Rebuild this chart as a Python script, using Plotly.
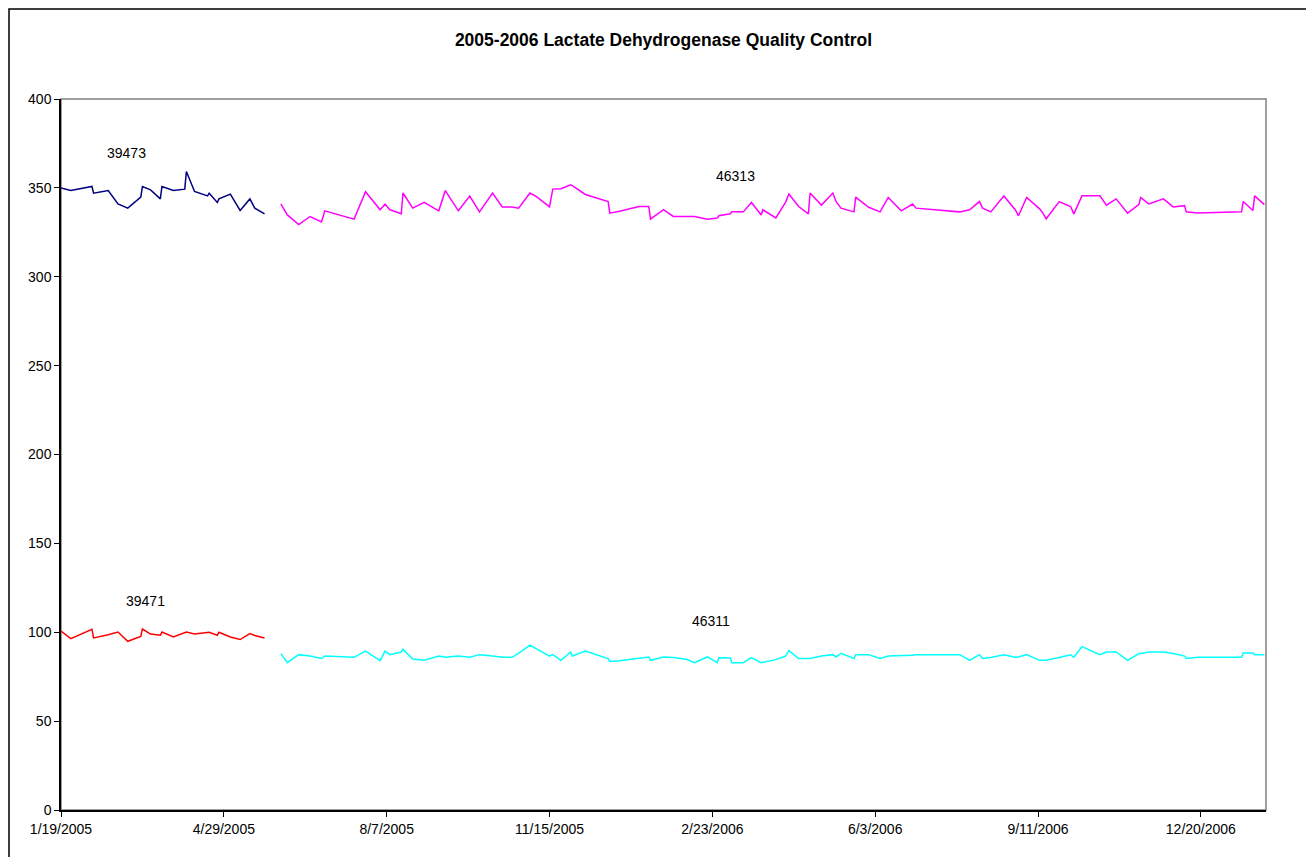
import pandas as pd
import plotly.graph_objects as go

START = "2005-01-19"

# ---- Lots 39473 / 39471 (Jan-May 2005), days since 1/19/2005 ----
days_2005 = [0, 6, 19, 20, 29, 35, 41, 49, 50, 55, 61, 62, 69, 76, 77, 82, 90, 91, 96, 97, 104, 110, 116, 119, 125]
lot_39473 = [349.9, 348.5, 350.8, 347.0, 348.5, 341.0, 338.6, 344.8, 350.8, 348.9, 343.8, 350.8, 348.5,
             349.3, 359.2, 348.0, 345.5, 347.0, 341.8, 343.8, 346.5, 337.3, 343.8, 338.6, 335.4]
lot_39471 = [100.7, 96.4, 101.7, 96.8, 98.6, 100.1, 94.9, 97.7, 101.8, 99.0, 98.3, 100.1, 97.3,
             100.0, 100.1, 99.0, 99.6, 100.0, 98.3, 100.0, 97.3, 95.9, 99.2, 98.2, 96.8]

# ---- Lots 46313 / 46311 (Jun 2005 - Jan 2007) ----
days_2006 = [135, 139, 146, 153, 160, 162, 180, 187, 196, 199, 202, 209, 210, 216, 223, 232, 236, 244,
             251, 257, 265, 271, 277, 281, 288, 292, 300, 302, 307, 313, 314, 322, 336, 337, 343, 355,
             361, 362, 370, 376, 380, 384, 389, 397, 403, 404, 411, 412, 419, 424, 430, 431, 439, 445,
             447, 453, 459, 460, 467, 474, 476, 479, 487, 488, 496, 503, 508, 516, 523, 525, 552, 558,
             564, 566, 571, 579, 586, 588, 593, 601, 603, 605, 613, 620, 622, 627, 638, 642, 648, 655,
             662, 663, 668, 677, 683, 690, 691, 698, 725, 726, 732, 733, 739]
lot_46313 = [341.0, 334.8, 329.4, 333.9, 330.9, 337.1, 332.4, 347.8, 337.7, 340.9, 337.7, 335.4, 347.1,
             338.6, 341.8, 337.1, 348.5, 337.1, 345.4, 336.5, 347.1, 339.3, 339.3, 338.6, 347.1, 345.1,
             339.3, 349.3, 349.5, 351.7, 351.3, 346.3, 342.3, 335.8, 336.9, 339.5, 339.5, 332.4, 337.7,
             333.9, 333.9, 333.9, 333.9, 332.4, 333.0, 334.3, 335.4, 336.5, 336.5, 341.8, 334.7, 337.7,
             333.1, 342.0, 346.5, 339.5, 335.4, 347.1, 340.3, 347.1, 342.2, 338.6, 336.5, 344.8, 339.1,
             336.5, 344.6, 337.1, 340.9, 338.6, 336.5, 337.7, 342.3, 338.6, 336.5, 345.4, 337.7, 334.3,
             344.6, 338.2, 335.8, 332.6, 342.3, 339.5, 335.4, 345.5, 345.5, 340.3, 343.8, 335.8, 340.7,
             344.6, 341.0, 343.8, 339.3, 340.0, 336.5, 335.8, 336.5, 342.3, 337.3, 345.5, 340.6]
lot_46311 = [88.0, 82.9, 87.4, 86.6, 85.2, 86.6, 85.9, 89.4, 84.0, 89.4, 87.4, 88.9, 90.4,
             84.9, 84.2, 86.6, 85.9, 86.6, 85.9, 87.4, 86.6, 85.9, 85.9, 88.1, 92.8, 90.7,
             86.6, 87.4, 84.2, 88.9, 86.6, 89.4, 85.2, 83.6, 84.0, 85.4, 86.1, 84.2, 86.1,
             85.8, 85.5, 84.8, 82.9, 86.1, 82.9, 85.7, 85.5, 82.9, 82.9, 85.7, 82.9, 83.1,
             84.6, 86.6, 89.7, 85.2, 85.2, 85.3, 86.6, 87.4, 86.1, 88.1, 85.2, 87.4, 87.4,
             85.2, 86.6, 86.6, 87.0, 87.4, 87.4, 84.2, 87.4, 85.2, 85.8, 87.4, 85.9, 86.1,
             87.4, 84.2, 84.2, 84.2, 85.8, 87.3, 85.9, 91.9, 87.4, 88.9, 88.9, 84.2, 88.0,
             88.0, 88.9, 88.9, 88.0, 86.6, 85.2, 85.9, 85.9, 88.3, 88.3, 87.4, 87.4]

tick_days = [0, 100, 200, 300, 400, 500, 600, 700]
axis_end_day = 740

lot_labels = ["39473", "39471", "46313", "46311"]
label_days = [40, 52, 414, 399]
label_values = [369.7, 117.4, 356.8, 106.2]

start = pd.Timestamp(START)
to_dates = lambda d: [start + pd.Timedelta(days=int(v)) for v in d]

FONT = "Liberation Sans, Arial"

fig = go.Figure()
series = [
    (days_2005, lot_39473, "#000080", "39473"),
    (days_2005, lot_39471, "#FF0000", "39471"),
    (days_2006, lot_46313, "#FF00FF", "46313"),
    (days_2006, lot_46311, "#00FFFF", "46311"),
]
for d, v, c, n in series:
    fig.add_trace(go.Scatter(x=to_dates(d), y=v, mode="lines", name=n,
                             line=dict(color=c, width=1.5)))

for lab, ld, lv in zip(lot_labels, label_days, label_values):
    fig.add_annotation(x=to_dates([ld])[0], y=lv, text=lab, showarrow=False,
                       font=dict(family=FONT, size=14, color="black"))

W, H = 1306, 849
L, R, T, B = 53, 48, 91, 47
PW, PH = W - L - R, H - T - B

tickvals = to_dates(tick_days)
fig.update_layout(
    width=W, height=H,
    margin=dict(l=L, r=R, t=T, b=B),
    paper_bgcolor="white", plot_bgcolor="white",
    showlegend=False,
    font=dict(family=FONT, size=14, color="black"),
    title=dict(text="<b>2005-2006 Lactate Dehydrogenase Quality Control</b>",
               x=0.5, xref="paper", y=1 - 32 / H, yanchor="middle",
               font=dict(family=FONT, size=17.5, color="black")),
    xaxis=dict(range=[start, start + pd.Timedelta(days=axis_end_day)],
               tickvals=tickvals, ticktext=[t.strftime("%-m/%-d/%Y") for t in tickvals],
               ticks="outside", ticklen=5, tickcolor="black", showgrid=False,
               showline=True, linecolor="black", linewidth=1.5, zeroline=False,
               tickfont=dict(size=14)),
    yaxis=dict(range=[0, 400], dtick=50, ticks="outside", ticklen=5, tickcolor="black",
               showgrid=False, showline=True, linecolor="black", linewidth=1.5,
               zeroline=False, tickfont=dict(size=14)),
)

# plot area border (gray) and outer chart frame
fig.add_shape(type="rect", xref="paper", yref="paper", x0=0, y0=0, x1=1, y1=1,
              line=dict(color="#808080", width=1.5), layer="below")
fig.add_shape(type="rect", xref="paper", yref="paper",
              x0=-(L - 1) / PW, y0=-0.2, x1=1.2, y1=1 + (T - 1) / PH,
              line=dict(color="black", width=1.5))

fig.write_html("out.html")
